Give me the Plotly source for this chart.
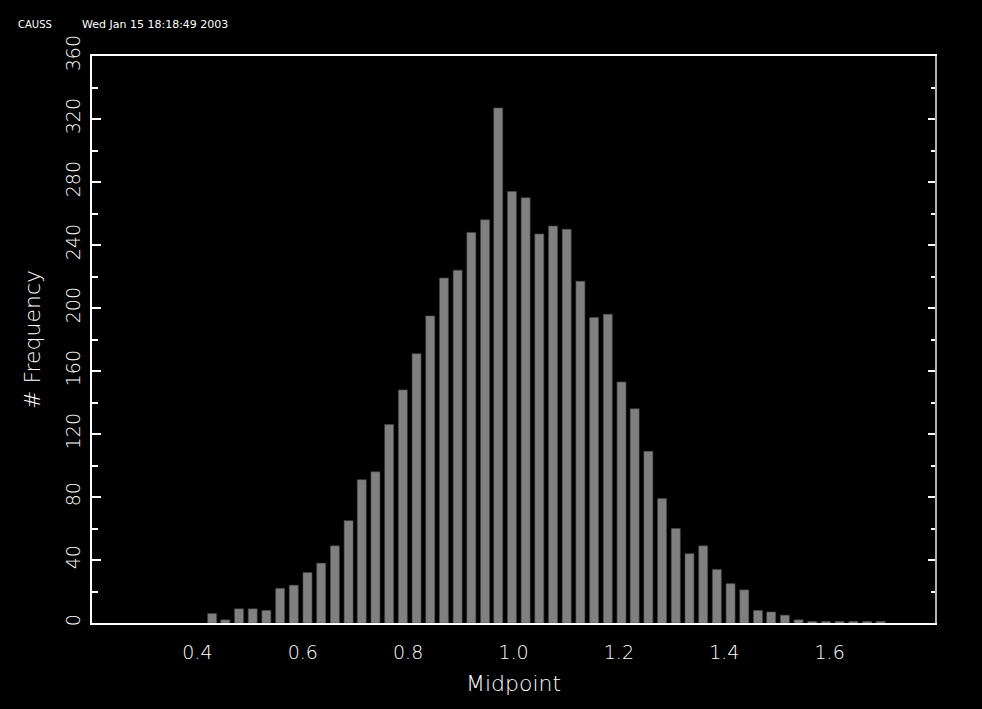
import plotly.graph_objects as go

# Bin midpoints
midpoints = [0.428, 0.453, 0.479, 0.505, 0.531, 0.557, 0.583, 0.609, 0.635, 0.661,
             0.687, 0.712, 0.738, 0.764, 0.790, 0.816, 0.842, 0.868, 0.894, 0.920,
             0.946, 0.971, 0.997, 1.023, 1.049, 1.075, 1.101, 1.127, 1.153, 1.179,
             1.205, 1.230, 1.256, 1.282, 1.308, 1.334, 1.360, 1.386, 1.412, 1.438,
             1.464, 1.489, 1.515, 1.541, 1.567, 1.593, 1.619, 1.645, 1.671, 1.697]
frequency = [6, 2, 9, 9, 8, 22, 24, 32, 38, 49,
             65, 91, 96, 126, 148, 171, 195, 219, 224, 248,
             256, 327, 274, 270, 247, 252, 250, 217, 194, 196,
             153, 136, 109, 79, 60, 44, 49, 34, 25, 21,
             8, 7, 5, 2, 1, 1, 1, 1, 1, 1]

x_ticks = [0.4, 0.6, 0.8, 1.0, 1.2, 1.4, 1.6]
y_ticks = [0, 40, 80, 120, 160, 200, 240, 280, 320, 360]

FONT = "DejaVu Sans"
TXT = "#ffffff"
W = 200

fig = go.Figure()
fig.add_trace(go.Bar(
    x=midpoints, y=frequency,
    marker=dict(color="#808080", line=dict(color="#4a4a4a", width=0.6)),
    hoverinfo="x+y", showlegend=False,
))
# invisible helper trace so the right-hand axis gets drawn
fig.add_trace(go.Scatter(
    x=[midpoints[0]], y=[frequency[0]], yaxis="y2", mode="markers",
    marker=dict(opacity=0), hoverinfo="skip", showlegend=False,
))

fig.update_layout(
    width=982, height=709,
    margin=dict(l=92, r=47, t=56, b=86),
    paper_bgcolor="black", plot_bgcolor="black",
    bargap=0.32,
    font=dict(family=FONT, color=TXT, size=19, weight=W),
    xaxis=dict(
        range=[0.2, 1.8], tickvals=x_ticks, tickformat=".1f",
        ticks="outside", ticklen=11, tickcolor="rgba(0,0,0,0)",
        showgrid=False, zeroline=False,
        showline=True, linecolor="white", linewidth=2, mirror=True,
        tickfont=dict(size=19, color=TXT, family=FONT, weight=W),
        title=dict(text="Midpoint", font=dict(size=22, color=TXT, family=FONT, weight=W), standoff=14),
    ),
    yaxis=dict(
        range=[0, 360], tickvals=y_ticks, tickangle=-90,
        ticks="inside", ticklen=9, tickcolor="white", tickwidth=1.5,
        minor=dict(dtick=20, ticks="inside", ticklen=6, tickcolor="white", tickwidth=1.5),
        showgrid=False, zeroline=False,
        showline=True, linecolor="white", linewidth=2,
        tickfont=dict(size=19, color=TXT, family=FONT, weight=W),
        ticklabelstandoff=2,
        title=dict(text="# Frequency", font=dict(size=22, color=TXT, family=FONT, weight=W), standoff=16),
    ),
    yaxis2=dict(
        range=[0, 360], overlaying="y", side="right", tickvals=y_ticks,
        ticks="inside", ticklen=7, tickcolor="white", tickwidth=1.5,
        minor=dict(dtick=20, ticks="inside", ticklen=4, tickcolor="white", tickwidth=1.5),
        showticklabels=False, showgrid=False, zeroline=False,
        showline=True, linecolor="#b0b0b0", linewidth=2,
    ),
    annotations=[
        dict(text="CAUSS", xref="paper", yref="paper", x=-0.0902, y=1.0564,
             xanchor="left", yanchor="middle", showarrow=False,
             font=dict(size=10, color=TXT, family=FONT, weight=400)),
        dict(text="Wed Jan 15 18:18:49 2003", xref="paper", yref="paper", x=-0.0142, y=1.0564,
             xanchor="left", yanchor="middle", showarrow=False,
             font=dict(size=11, color=TXT, family=FONT, weight=400)),
    ],
)

fig.write_html(
    "out.html",
    config={"displayModeBar": False},
    post_script="document.body.style.margin='0';document.body.style.background='black';",
)
